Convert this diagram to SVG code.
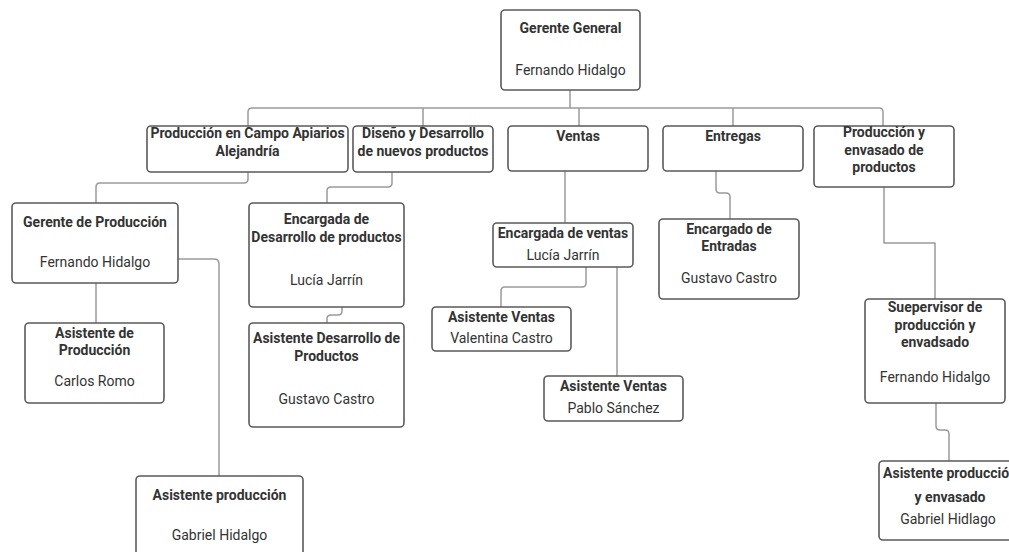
<svg xmlns="http://www.w3.org/2000/svg" width="1009" height="552" viewBox="0 0 1009 552">
  <style>
    .box { fill: #ffffff; stroke: #5a5a5a; stroke-width: 1.6; }
    .link { fill: none; stroke: #9a9a9a; stroke-width: 1.5; stroke-linejoin: round; }
    text { font-family: Roboto, "Liberation Sans", Arial, sans-serif; font-size: 14px; fill: #333333; text-anchor: middle; dominant-baseline: central; }
    .t { font-weight: bold; }
  </style>
  <rect width="1009" height="552" fill="#ffffff"/>

  <!-- connectors -->
  <g id="connectors">
    <path class="link" d="M570,90 V108"/>
    <path class="link" d="M248,126 V112 Q248,108 252,108 H879 Q883,108 883,112 V126"/>
    <path class="link" d="M423,108 V126"/>
    <path class="link" d="M579,108 V126"/>
    <path class="link" d="M733,108 V126"/>
    <path class="link" d="M248,172 V179 Q248,183 244,183 H100 Q96,183 96,187 V203"/>
    <path class="link" d="M392,172 V183 Q392,187 388,187 H331 Q327,187 327,191 V203"/>
    <path class="link" d="M565,171 V223"/>
    <path class="link" d="M716,171 V189 Q716,193 720,193 H726 Q730,193 730,197 V219"/>
    <path class="link" d="M884,187 V243 H935 V299"/>
    <path class="link" d="M96,283 V323"/>
    <path class="link" d="M178,259 H214 Q219,259 219,264 V476"/>
    <path class="link" d="M342,307 V311 Q342,315 338,315 H331 Q327,315 327,319 V323"/>
    <path class="link" d="M586,267 V283 Q586,287 582,287 H505 Q501,287 501,291 V307"/>
    <path class="link" d="M617,267 V376"/>
    <path class="link" d="M936,403 V426 Q936,430 940,430 H945 Q949,430 949,434 V461"/>
  </g>

  <g id="gerente-general">
    <rect class="box" x="501" y="10" width="139" height="80" rx="4"/>
    <text class="t" x="570.5" y="28">Gerente General</text>
    <text x="570.5" y="70">Fernando Hidalgo</text>
  </g>

  <g id="produccion-campo">
    <rect class="box" x="147" y="126" width="201" height="46" rx="4"/>
    <text class="t" x="247.5" y="133">Producción en Campo Apiarios</text>
    <text class="t" x="247.5" y="151">Alejandría</text>
  </g>

  <g id="diseno-desarrollo">
    <rect class="box" x="353" y="126" width="140" height="46" rx="4"/>
    <text class="t" x="423" y="133">Diseño y Desarrollo</text>
    <text class="t" x="423" y="151">de nuevos productos</text>
  </g>

  <g id="ventas">
    <rect class="box" x="508" y="126" width="140" height="45" rx="4"/>
    <text class="t" x="578" y="136">Ventas</text>
  </g>

  <g id="entregas">
    <rect class="box" x="663" y="126" width="140" height="45" rx="4"/>
    <text class="t" x="733" y="136">Entregas</text>
  </g>

  <g id="produccion-envasado">
    <rect class="box" x="814" y="126" width="140" height="61" rx="4"/>
    <text class="t" x="884" y="132">Producción y</text>
    <text class="t" x="884" y="150">envasado de</text>
    <text class="t" x="884" y="167">productos</text>
  </g>

  <g id="gerente-produccion">
    <rect class="box" x="12" y="203" width="166" height="80" rx="4"/>
    <text class="t" x="95" y="222">Gerente de Producción</text>
    <text x="95" y="262">Fernando Hidalgo</text>
  </g>

  <g id="asistente-de-produccion">
    <rect class="box" x="25" y="323" width="139" height="80" rx="4"/>
    <text class="t" x="94.5" y="333">Asistente de</text>
    <text class="t" x="94.5" y="350">Producción</text>
    <text x="94.5" y="381">Carlos Romo</text>
  </g>

  <g id="asistente-produccion">
    <rect class="box" x="136" y="476" width="167" height="90" rx="4"/>
    <text class="t" x="219.5" y="495">Asistente producción</text>
    <text x="219.5" y="535">Gabriel Hidalgo</text>
  </g>

  <g id="encargada-desarrollo">
    <rect class="box" x="249" y="203" width="155" height="104" rx="4"/>
    <text class="t" x="326.5" y="219">Encargada de</text>
    <text class="t" x="326.5" y="237">Desarrollo de productos</text>
    <text x="326.5" y="280">Lucía Jarrín</text>
  </g>

  <g id="asistente-desarrollo">
    <rect class="box" x="249" y="323" width="155" height="104" rx="4"/>
    <text class="t" x="326.5" y="338">Asistente Desarrollo de</text>
    <text class="t" x="326.5" y="356">Productos</text>
    <text x="326.5" y="399">Gustavo Castro</text>
  </g>

  <g id="encargada-ventas">
    <rect class="box" x="493" y="223" width="140" height="44" rx="4"/>
    <text class="t" x="563" y="233">Encargada de ventas</text>
    <text x="563" y="255">Lucía Jarrín</text>
  </g>

  <g id="asistente-ventas-valentina">
    <rect class="box" x="432" y="307" width="139" height="44" rx="4"/>
    <text class="t" x="501.5" y="317">Asistente Ventas</text>
    <text x="501.5" y="338">Valentina Castro</text>
  </g>

  <g id="asistente-ventas-pablo">
    <rect class="box" x="544" y="376" width="139" height="45" rx="4"/>
    <text class="t" x="613.5" y="386">Asistente Ventas</text>
    <text x="613.5" y="408">Pablo Sánchez</text>
  </g>

  <g id="encargado-entradas">
    <rect class="box" x="659" y="219" width="140" height="80" rx="4"/>
    <text class="t" x="729" y="229">Encargado de</text>
    <text class="t" x="729" y="246">Entradas</text>
    <text x="729" y="278">Gustavo Castro</text>
  </g>

  <g id="supervisor-envasado">
    <rect class="box" x="865" y="299" width="140" height="104" rx="4"/>
    <text class="t" x="935" y="307">Suepervisor de</text>
    <text class="t" x="935" y="325">producción y</text>
    <text class="t" x="935" y="342">envadsado</text>
    <text x="935" y="377">Fernando Hidalgo</text>
  </g>

  <g id="asistente-envasado">
    <rect class="box" x="879" y="461" width="140" height="79" rx="4"/>
    <text class="t" x="950" y="473">Asistente producción</text>
    <text class="t" x="950" y="497">y envasado</text>
    <text x="948" y="519">Gabriel Hidlago</text>
  </g>
</svg>
